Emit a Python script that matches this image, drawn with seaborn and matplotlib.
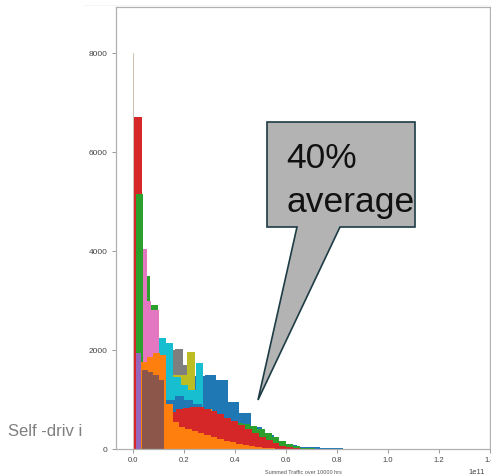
import numpy as np
import pandas as pd
import matplotlib
matplotlib.use("Agg")
import matplotlib.pyplot as plt
from matplotlib.patches import Polygon, Rectangle
from matplotlib.lines import Line2D
import seaborn as sns

# ---------------- data (x in units of 1e11, counts per bin) ----------------
red_spike_start, red_spike_width = 0.0, 0.034
red_spike_counts = [6700]

blue_a_start, blue_a_width = 0.012, 0.045
blue_a_counts = [350, 900, 1250, 1380, 1450, 1470, 1490, 1400, 950, 720, 440, 280,
                 140, 75, 50, 35, 22, 14, 9, 6, 4, 2]

green_a_start, green_a_width = 0.012, 0.028
green_a_counts = [5150, 3500, 2900, 2100, 1500, 1100, 950, 820, 760, 700, 640, 600,
                  580, 560, 530, 500, 460, 400, 330, 250, 170, 100, 55, 25, 12]

purple_a_start, purple_a_width = 0.012, 0.02
purple_a_counts = [1930, 900, 400, 200, 100, 50, 20]

pink_a_start, pink_a_width = 0.04, 0.015
pink_a_counts = [4040, 3000, 2800, 2800, 2100, 2100, 1500, 900, 450, 200, 80]

gray_a_start, gray_a_width = 0.045, 0.03
gray_a_counts = [1500, 1500, 1600, 2000, 2030, 1700, 1150, 700, 400, 220, 110, 50, 20]

olive_a_start, olive_a_width = 0.045, 0.033
olive_a_counts = [1300, 1400, 1450, 1500, 1500, 1950, 1040, 800, 500, 300, 150, 60, 20]

cyan_a_start, cyan_a_width = 0.10, 0.029
cyan_a_counts = [2250, 2150, 1450, 1300, 1200, 1730, 500, 200, 80, 30, 10]

blue_b_start, blue_b_width = 0.13, 0.035
blue_b_counts = [1000, 1080, 1000, 900, 750, 550, 380, 250, 150, 80, 40, 20, 10]

red_a_start, red_a_width = 0.034, 0.027
red_a_counts = [150, 200, 300, 650, 750, 800, 830, 850, 840, 800, 760, 700, 630, 560,
                480, 400, 320, 250, 180, 120, 70, 35, 15]

orange_a_start, orange_a_width = 0.03, 0.025
orange_a_counts = [1750, 1850, 1930, 1900, 900, 550, 450, 400, 360, 320, 280, 240,
                   200, 170, 140, 110, 80, 55, 35, 20, 12]

brown_a_start, brown_a_width = 0.035, 0.022
brown_a_counts = [1600, 1550, 1500, 1400]

tan_start, tan_width = 0.0, 0.003
tan_counts = [8000]

x_ticks = [0.0, 0.2, 0.4, 0.6, 0.8, 1.0, 1.2, 1.4]
y_ticks = [0, 2000, 4000, 6000, 8000]
x_label = "Summed Traffic over 10000 hrs"
side_text = "Self -driv i"
callout_lines = ["40%", "average"]

SCALE = 1e11
series = [
    (red_spike_start, red_spike_width, red_spike_counts, "#d62728"),
    (blue_a_start, blue_a_width, blue_a_counts, "#1f77b4"),
    (green_a_start, green_a_width, green_a_counts, "#2ca02c"),
    (purple_a_start, purple_a_width, purple_a_counts, "#9467bd"),
    (pink_a_start, pink_a_width, pink_a_counts, "#e377c2"),
    (gray_a_start, gray_a_width, gray_a_counts, "#7f7f7f"),
    (olive_a_start, olive_a_width, olive_a_counts, "#bcbd22"),
    (cyan_a_start, cyan_a_width, cyan_a_counts, "#17becf"),
    (blue_b_start, blue_b_width, blue_b_counts, "#1f77b4"),
    (red_a_start, red_a_width, red_a_counts, "#d62728"),
    (orange_a_start, orange_a_width, orange_a_counts, "#ff7f0e"),
    (brown_a_start, brown_a_width, brown_a_counts, "#8c564b"),
    (tan_start, tan_width, tan_counts, "#cfc2b2"),
]

sns.set_style("white")
plt.rcParams["font.family"] = ["Liberation Sans", "DejaVu Sans"]

W, H = 491, 476
fig = plt.figure(figsize=(W / 100, H / 100), dpi=100)
fig.patch.set_facecolor("white")

def fx(px):
    return px / W

def fy(py):
    return 1 - py / H

# slide text partly hidden behind the screenshot
fig.text(fx(8), fy(436), side_text, fontsize=12, color="#7f7f7f",
         ha="left", va="baseline", zorder=-2)
fig.patches.append(Rectangle((fx(84), 0), 1 - fx(84), fy(6), transform=fig.transFigure,
                             facecolor="white", edgecolor="none", zorder=-1))
fig.lines.append(Line2D([fx(84), 1], [fy(6), fy(6)], transform=fig.transFigure,
                        color="#d0d0d0", lw=1.0, zorder=-1))

ax = fig.add_axes([fx(116), fy(449), fx(490) - fx(116), fy(7) - fy(449)])
ax.set_facecolor("white")

for start, width, counts, color in series:
    n = len(counts)
    edges = (start + width * np.arange(n + 1)) * SCALE
    centers = (edges[:-1] + edges[1:]) / 2
    df = pd.DataFrame({"x": centers, "w": counts})
    sns.histplot(data=df, x="x", weights="w", bins=edges.tolist(), color=color,
                 alpha=1, linewidth=0, ax=ax)

ax.set_xlim(-0.067 * SCALE, 1.40 * SCALE)
ax.set_ylim(0, 8930)
ax.set_xticks([t * SCALE for t in x_ticks])
ax.set_yticks(y_ticks)
ax.set_xlabel(x_label, fontsize=4, color="#555555", labelpad=4)
ax.set_ylabel("")
ax.tick_params(axis="both", which="both", length=3, width=0.6, color="#888888",
               labelcolor="#444444", direction="out", bottom=True, left=True)
ax.tick_params(axis="x", labelsize=5.5, pad=3)
ax.tick_params(axis="y", labelsize=6, pad=3)
off = ax.xaxis.get_offset_text()
off.set_fontsize(5.5)
off.set_color("#444444")
off.set_x(0.985)
for s in ax.spines.values():
    s.set_color("#b0b0b0")
    s.set_linewidth(0.9)

# callout shape
pts = [(267, 122), (415, 122), (415, 227), (340, 227), (258, 400), (297, 227), (267, 227)]
fig.patches.append(Polygon([(fx(x), fy(y)) for x, y in pts], closed=True,
                           transform=fig.transFigure, facecolor="#b3b3b3",
                           edgecolor="#1d3c45", linewidth=1.2, zorder=5))
fig.text(fx(286), fy(168), callout_lines[0], fontsize=25.5, color="#111111",
         ha="left", va="baseline", zorder=6)
fig.text(fx(286), fy(212), callout_lines[1], fontsize=25.5, color="#111111",
         ha="left", va="baseline", zorder=6)

fig.savefig("out.png", dpi=100)
